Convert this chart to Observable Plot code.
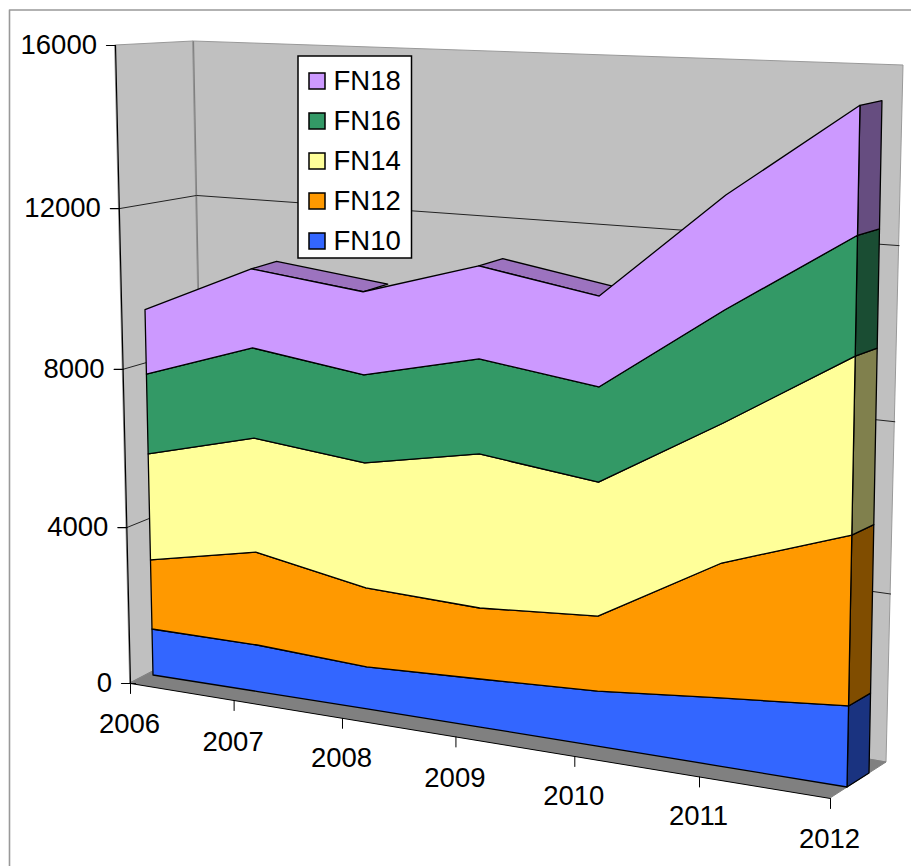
<!DOCTYPE html>
<html>
<head>
<meta charset="utf-8">
<style>html,body{margin:0;padding:0;background:#fff}svg{display:block}</style>
<script src="https://cdn.jsdelivr.net/npm/d3@7"></script>
<script src="https://cdn.jsdelivr.net/npm/@observablehq/plot@0.6"></script>
</head>
<body>
<div id="chart"></div>
<script>
// ---- data ----
const years = [2006, 2007, 2008, 2009, 2010, 2011, 2012];
const FN10 = [1190, 1180, 1040, 1165, 1300, 1575, 1830];
const FN12 = [1775, 2335, 1945, 1710, 1765, 3085, 3800];
const FN14 = [2695, 2830, 3045, 3660, 3115, 3150, 3900];
const FN16 = [2010, 2210, 2115, 2225, 2180, 2505, 2590];
const FN18 = [1610, 1920, 1975, 2155, 2060, 2515, 2745];
const seriesNames = ["FN10", "FN12", "FN14", "FN16", "FN18"];
const seriesValues = [FN10, FN12, FN14, FN16, FN18];
const faceColors = ["#3366FF", "#FF9900", "#FFFF99", "#339966", "#CC99FF"];
const sideColors = ["#1A3380", "#804D00", "#80804D", "#1A4D33", "#664D80"];
const topColor = "#9C73BF";
const valueTicks = [0, 4000, 8000, 12000, 16000];
const yearLabelDrop = [41, 42, 40, 41, 40, 39, 41];
const maxValue = 16000;

// ---- perspective: unit square -> quad, the chart's 3-D view ----
function quadMap([x0, y0], [x1, y1], [x2, y2], [x3, y3]) {
  const dx1 = x1 - x2, dx2 = x3 - x2, sx = x0 - x1 + x2 - x3;
  const dy1 = y1 - y2, dy2 = y3 - y2, sy = y0 - y1 + y2 - y3;
  const det = dx1 * dy2 - dx2 * dy1;
  const g = (sx * dy2 - dx2 * sy) / det, h = (dx1 * sy - sx * dy1) / det;
  const a = x1 - x0 + g * x1, b = x3 - x0 + h * x3;
  const d = y1 - y0 + g * y1, e = y3 - y0 + h * y3;
  return (u, v) => {
    const w = g * u + h * v + 1;
    return [(a * u + b * v + x0) / w, (d * u + e * v + y0) / w];
  };
}
const frontPlane = quadMap([153, 675], [847, 787], [861, 51], [139, 35]);
const leftWall = quadMap([130, 683], [205, 644], [193, 41], [115, 45]);
const backWall = quadMap([205, 644], [886, 762], [903, 65], [193, 41]);
const U = (year) => (year - years[0]) / (years[years.length - 1] - years[0]);
const V = (value) => value / maxValue;
const front = (year, value) => {
  const [x, y] = frontPlane(U(year), V(value));
  return [x + 4.5 * Math.sin(Math.PI * U(year)), y];
};
const back = (year, value) => {
  const [x, y] = front(year, value);
  return [x + 26 - 4 * U(year), y - 14 + 10 * V(value)];
};
const floorFront = (year) => {
  const t = (frontPlane(U(year), 0)[0] - 153) / 694;
  return [130 + 700 * t, 683 + 115 * t];
};

// ---- cumulative stack ----
const rows = [];
seriesNames.forEach((name, s) => years.forEach((year, i) => {
  const lo = d3.sum(seriesValues.slice(0, s), (a) => a[i]);
  rows.push({name, s, year, lo, hi: lo + seriesValues[s][i]});
}));
const last = years[years.length - 1];
const totals = years.map((_, i) => d3.sum(seriesValues, (a) => a[i]));

// ---- helpers ----
const quad = (p0, p1, p2, p3, opts) => Plot.area([[p0, p3], [p1, p2]], {
  x1: (d) => d[0][0], y1: (d) => d[0][1], x2: (d) => d[1][0], y2: (d) => d[1][1], ...opts
});
const path = (pts, opts) => Plot.line(pts, {x: (d) => d[0], y: (d) => d[1], ...opts});
const font = {fontFamily: "'Liberation Sans', Arial, sans-serif", fontSize: 27.5, fill: "#000"};

const marks = [];

// chart-area border
marks.push(path([[9, 866], [9, 9.5], [911, 9.5]], {stroke: "#999", strokeWidth: 1.6}));

// walls and floor
marks.push(quad(leftWall(0, 0), leftWall(1, 0), leftWall(1, 1), leftWall(0, 1), {fill: "#C0C0C0", stroke: "#999"}));
marks.push(quad(backWall(0, 0), backWall(1, 0), backWall(1, 1), backWall(0, 1), {fill: "#C0C0C0", stroke: "#999"}));
marks.push(quad([130, 683], [830, 798], [886, 762], backWall(0, 0), {fill: "#808080", stroke: "#808080"}));
marks.push(path([leftWall(1, 0), leftWall(1, 1)], {stroke: "#808080", strokeWidth: 1.2}));

// gridlines at inner ticks
valueTicks.filter((v) => v > 0 && v < maxValue).forEach((v) => {
  marks.push(path([leftWall(0, V(v)), leftWall(1, V(v)), backWall(1, V(v))], {stroke: "#222", strokeWidth: 1}));
});

// axes lines, ticks and labels
marks.push(path([leftWall(0, 0), leftWall(0, 1)], {stroke: "#000", strokeWidth: 1.2}));
marks.push(path([[130, 683], [830, 798]], {stroke: "#000", strokeWidth: 1}));
valueTicks.forEach((v) => {
  const [x, y] = leftWall(0, V(v));
  marks.push(path([[x - 9, y], [x + (v === 0 ? 5 : 0), y]], {stroke: "#000", strokeWidth: 1.2}));
});
marks.push(Plot.text(valueTicks, {
  x: (v) => leftWall(0, V(v))[0] - 18.5,
  y: (v) => leftWall(0, V(v))[1],
  text: (v) => String(v), textAnchor: "end", lineAnchor: "middle", ...font
}));
years.forEach((year) => {
  const [x, y] = floorFront(year);
  marks.push(path([[x, y], [x, y + 10]], {stroke: "#000", strokeWidth: 1}));
});
marks.push(Plot.text(years, {
  x: (yr) => floorFront(yr)[0] - 1,
  y: (yr) => floorFront(yr)[1] + yearLabelDrop[years.indexOf(yr)],
  text: (yr) => String(yr), textAnchor: "middle", lineAnchor: "middle", ...font
}));

// right-hand side faces of the 3-D area
seriesNames.forEach((name, s) => {
  const r = rows.find((d) => d.s === s && d.year === last);
  marks.push(quad(front(last, r.lo), back(last, r.lo), back(last, r.hi), front(last, r.hi),
    {fill: sideColors[s], stroke: "#000", strokeWidth: 1.3}));
});

// top faces, where the total falls from one year to the next
years.slice(0, -1).forEach((year, i) => {
  if (totals[i + 1] < totals[i]) {
    const y2 = years[i + 1];
    marks.push(quad(front(year, totals[i]), back(year, totals[i]), back(y2, totals[i + 1]), front(y2, totals[i + 1]),
      {fill: topColor, stroke: "#000", strokeWidth: 1.3}));
  }
});

// front faces: the stacked areas
seriesNames.forEach((name, s) => {
  marks.push(Plot.area(rows.filter((d) => d.s === s), {
    x1: (d) => front(d.year, d.hi)[0], y1: (d) => front(d.year, d.hi)[1],
    x2: (d) => front(d.year, d.lo)[0], y2: (d) => front(d.year, d.lo)[1],
    fill: faceColors[s], stroke: "#000", strokeWidth: 1.3
  }));
});

// legend
const legendOrder = [...seriesNames].reverse();
marks.push(Plot.rect([0], {x1: 298, x2: 411.5, y1: 56, y2: 258, fill: "#fff", stroke: "#000", strokeWidth: 1.5}));
marks.push(Plot.rect(legendOrder, {
  x1: 309, x2: 325,
  y1: (n) => 73 + 40 * legendOrder.indexOf(n), y2: (n) => 89 + 40 * legendOrder.indexOf(n),
  fill: (n) => faceColors[seriesNames.indexOf(n)], stroke: "#000", strokeWidth: 1.5
}));
marks.push(Plot.text(legendOrder, {
  x: 333, y: (n) => 81 + 40 * legendOrder.indexOf(n),
  text: (n) => n, textAnchor: "start", lineAnchor: "middle", ...font
}));

const chart = Plot.plot({
  width: 911, height: 866,
  margin: 0,
  x: {domain: [0, 911], range: [0, 911], axis: null},
  y: {domain: [0, 866], range: [0, 866], axis: null},
  style: {background: "#fff"},
  marks
});
document.getElementById("chart").append(chart);
</script>
</body>
</html>
